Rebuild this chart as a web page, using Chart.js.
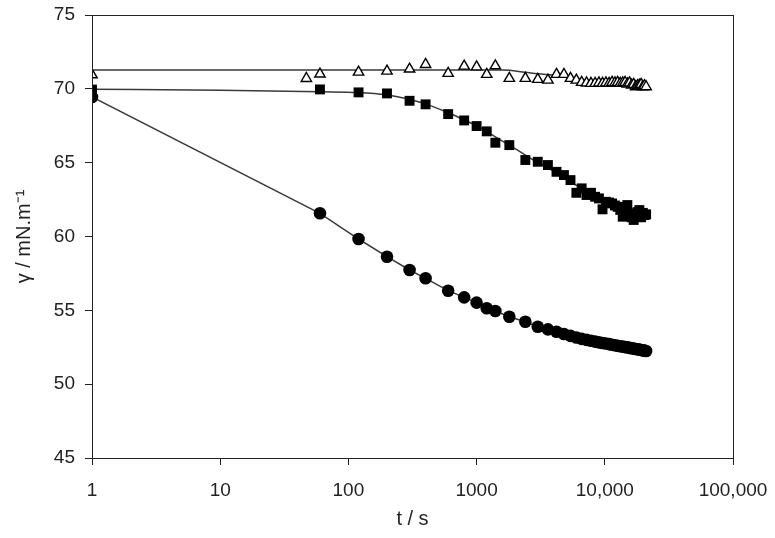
<!DOCTYPE html>
<html lang="en">
  <head>
    <meta charset="utf-8" />
    <title>Surface tension vs time</title>
    <style>
      html, body { margin: 0; padding: 0; background: #fff; }
      #wrap { width: 775px; height: 538px; }
    </style>
  </head>
  <body>
    <div id="wrap"><canvas id="tensionChart"></canvas></div>
    <script src="https://cdn.jsdelivr.net/npm/chart.js@4.4.1/dist/chart.umd.min.js"></script>
    <script>
      // x tick positions and their printed labels
      const xTickValues = [1, 10, 100, 1000, 10000, 100000];
      const xTickLabels = ['1', '10', '100', '1000', '10,000', '100,000'];

      // sampling times (s) shared by the circle and square series
      const sampleTimes = [1, 60, 120, 200, 300, 400, 600, 800, 1000, 1200, 1400, 1800, 2400, 3000, 3600,
        4200, 4800, 5400, 6000, 6600, 7200, 7800, 8400, 9000, 9600, 10200, 10800, 11400, 12000,
        12600, 13200, 13800, 14400, 15000, 15600, 16200, 16800, 17400, 18000, 18600, 19200,
        19800, 20400, 21000];

      const circleValues = [69.45, 61.57, 59.83, 58.63, 57.73, 57.17, 56.33, 55.88, 55.52, 55.14, 54.95,
        54.57, 54.23, 53.89, 53.71, 53.55, 53.40, 53.27, 53.16, 53.07, 53.00, 52.94, 52.88, 52.83,
        52.79, 52.75, 52.71, 52.67, 52.64, 52.60, 52.57, 52.54, 52.51, 52.49, 52.46, 52.43, 52.41,
        52.38, 52.36, 52.34, 52.31, 52.29, 52.27, 52.25];

      const squareValues = [69.95, 69.96, 69.76, 69.69, 69.19, 68.95, 68.29, 67.86, 67.48, 67.12, 66.35,
        66.19, 65.18, 65.06, 64.84, 64.38, 64.16, 63.82, 62.96, 63.26, 62.81, 62.96, 62.69, 62.58,
        61.84, 62.35, 62.30, 62.24, 62.10, 62.01, 61.80, 61.34, 62.00, 62.13, 61.57, 61.30, 61.12,
        61.50, 61.65, 61.79, 61.30, 61.60, 61.45, 61.50];

      // open triangles have one extra early reading
      const triangleTimes = [1, 47, 60, 120, 200, 300, 400, 600, 800, 1000, 1200, 1400, 1800, 2400, 3000,
        3600, 4200, 4800, 5400, 6000, 6600, 7200, 7800, 8400, 9000, 9600, 10200, 10800, 11400,
        12000, 12600, 13200, 13800, 14400, 15000, 15600, 16200, 16800, 17400, 18000, 18600,
        19200, 19800, 20400, 21000];
      const triangleValues = [70.95, 70.7, 71.0, 71.13, 71.2, 71.34, 71.65, 71.05, 71.54, 71.49, 70.98,
        71.56, 70.71, 70.71, 70.64, 70.59, 70.98, 70.98, 70.71, 70.59, 70.44, 70.40, 70.37, 70.37,
        70.40, 70.37, 70.40, 70.37, 70.44, 70.40, 70.44, 70.37, 70.40, 70.44, 70.33, 70.40, 70.25,
        70.30, 70.14, 70.22, 70.25, 70.30, 70.14, 70.22, 70.14];

      // fitted curves drawn through the square and triangle data
      const squareFitTimes = [1, 10, 60, 120, 200, 300, 400, 600, 800, 1000, 1400, 2000, 2800, 3600,
        5000, 7000, 9200, 12500, 16600, 21000];
      const squareFitValues = [69.98, 69.9, 69.8, 69.75, 69.58, 69.28, 68.98, 68.38, 67.9, 67.5, 66.75,
        65.95, 65.15, 64.65, 63.85, 63.15, 62.6, 62.0, 61.45, 61.3];
      const triangleFitTimes = [1, 1600, 2400, 3000, 4200, 6000, 8600, 12000, 16000, 21000];
      const triangleFitValues = [71.27, 71.27, 71.12, 71.02, 70.92, 70.7, 70.45, 70.3, 70.2, 70.14];

      const toPoints = (xs, ys) => xs.map((x, i) => ({ x: x, y: ys[i] }));

      const fontFamily = "'Liberation Sans', Arial, sans-serif";
      const inkColor = '#222';
      const lineColor = '#3a3a3a';

      // draws the box round the plot area
      const framePlugin = {
        id: 'frame',
        afterDraw(chart) {
          const { ctx, chartArea } = chart;
          ctx.save();
          ctx.strokeStyle = inkColor;
          ctx.lineWidth = 1;
          ctx.strokeRect(chartArea.left + 0.5, chartArea.top + 0.5,
            chartArea.right - chartArea.left, chartArea.bottom - chartArea.top);
          ctx.restore();
        },
      };

      new Chart(document.getElementById('tensionChart'), {
        type: 'scatter',
        data: {
          datasets: [
            {
              label: 'triangle fit',
              data: toPoints(triangleFitTimes, triangleFitValues),
              showLine: true,
              pointRadius: 0,
              borderColor: lineColor,
              borderWidth: 1.5,
              cubicInterpolationMode: 'monotone',
              order: 3,
            },
            {
              label: 'square fit',
              data: toPoints(squareFitTimes, squareFitValues),
              showLine: true,
              pointRadius: 0,
              borderColor: lineColor,
              borderWidth: 1.5,
              cubicInterpolationMode: 'monotone',
              order: 3,
            },
            {
              label: 'circles',
              data: toPoints(sampleTimes, circleValues),
              showLine: true,
              borderColor: lineColor,
              borderWidth: 1.5,
              pointStyle: 'circle',
              pointRadius: 6.3,
              pointBackgroundColor: '#000',
              pointBorderColor: '#000',
              pointBorderWidth: 0,
              order: 1,
            },
            {
              label: 'squares',
              data: toPoints(sampleTimes, squareValues),
              pointStyle: 'rect',
              pointRadius: 7,
              pointBackgroundColor: '#000',
              pointBorderColor: '#000',
              pointBorderWidth: 0,
              order: 1,
            },
            {
              label: 'triangles',
              data: toPoints(triangleTimes, triangleValues),
              pointStyle: 'triangle',
              pointRadius: 6,
              pointBackgroundColor: '#fff',
              pointBorderColor: '#000',
              pointBorderWidth: 1.4,
              order: 1,
            },
          ],
        },
        options: {
          responsive: true,
          maintainAspectRatio: false,
          animation: false,
          layout: { padding: { top: 15, right: 42, left: 0, bottom: 0 } },
          plugins: {
            legend: { display: false },
            tooltip: { enabled: false },
          },
          scales: {
            x: {
              type: 'logarithmic',
              min: 1,
              max: 100000,
              afterBuildTicks: (axis) => {
                axis.ticks = xTickValues.map((v) => ({ value: v }));
              },
              afterFit: (scale) => {
                // fixed axis band; labels may overhang the right padding
                scale.height = 80;
                scale.paddingLeft = 0;
                scale.paddingRight = 0;
              },
              ticks: {
                color: inkColor,
                font: { family: fontFamily, size: 19 },
                padding: 14,
                maxRotation: 0,
                autoSkip: false,
                callback: (value) => {
                  const i = xTickValues.indexOf(value);
                  return i >= 0 ? xTickLabels[i] : '';
                },
              },
              grid: {
                drawOnChartArea: false,
                drawTicks: true,
                tickLength: 7,
                color: inkColor,
              },
              border: { display: true, color: inkColor, width: 1 },
              title: {
                display: true,
                text: 't / s',
                color: inkColor,
                font: { family: fontFamily, size: 20 },
                padding: { top: 4, bottom: 7 },
              },
            },
            y: {
              min: 45,
              max: 75,
              afterFit: (scale) => {
                scale.width = 92;
                scale.paddingTop = 0;
                scale.paddingBottom = 0;
              },
              ticks: {
                stepSize: 5,
                color: inkColor,
                font: { family: fontFamily, size: 19 },
                padding: 10,
              },
              grid: {
                drawOnChartArea: false,
                drawTicks: true,
                tickLength: 7,
                color: inkColor,
              },
              border: { display: true, color: inkColor, width: 1 },
              title: {
                display: true,
                text: 'γ / mN.m⁻¹',
                color: inkColor,
                font: { family: fontFamily, size: 20 },
                padding: { top: 12, bottom: 0 },
              },
            },
          },
        },
        plugins: [framePlugin],
      });
    </script>
  </body>
</html>
